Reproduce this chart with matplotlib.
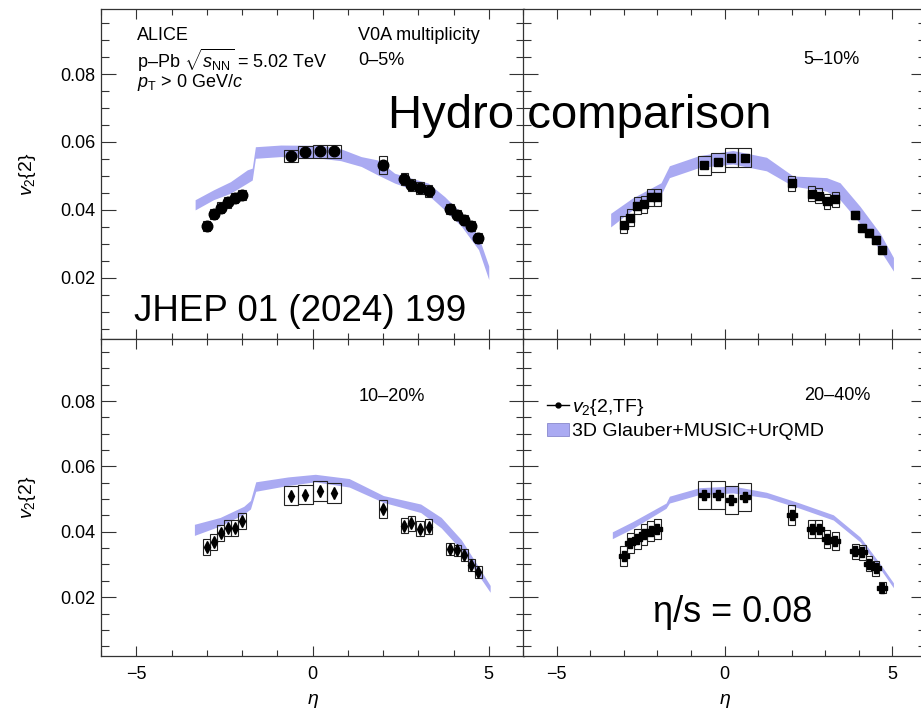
import numpy as np
import matplotlib
matplotlib.use('Agg')
import matplotlib.pyplot as plt
from matplotlib.lines import Line2D
from matplotlib.patches import Patch

plt.rcParams['font.family'] = ['Liberation Sans', 'DejaVu Sans']
plt.rcParams['mathtext.fontset'] = 'custom'
plt.rcParams['mathtext.rm'] = 'Liberation Sans'
plt.rcParams['mathtext.it'] = 'Liberation Sans:italic'
plt.rcParams['mathtext.bf'] = 'Liberation Sans:bold'

# eta bins (same in every centrality class)
eta = [-3.0, -2.8, -2.6, -2.4, -2.2, -2.0, -0.6, -0.2, 0.2, 0.6,
       2.0, 2.6, 2.8, 3.05, 3.3, 3.9, 4.1, 4.3, 4.5, 4.7]
box_w = [0.2, 0.2, 0.2, 0.2, 0.2, 0.2, 0.4, 0.4, 0.4, 0.4,
         0.2, 0.2, 0.2, 0.2, 0.2, 0.2, 0.2, 0.2, 0.2, 0.2]

# v2{2,TF} per class
v2_0_5 = [0.0352, 0.0389, 0.0407, 0.0422, 0.0434, 0.0444, 0.0559, 0.0571, 0.0572, 0.0572,
          0.0533, 0.0490, 0.0473, 0.0464, 0.0455, 0.0402, 0.0385, 0.0370, 0.0352, 0.0317]
v2_5_10 = [0.0357, 0.0377, 0.0412, 0.0417, 0.0437, 0.0437, 0.0531, 0.0541, 0.0554, 0.0554,
           0.0479, 0.0447, 0.0442, 0.0425, 0.0432, 0.0385, 0.0347, 0.0332, 0.0312, 0.0282]
v2_10_20 = [0.0353, 0.0369, 0.0397, 0.0412, 0.0412, 0.0433, 0.0511, 0.0514, 0.0524, 0.0518,
            0.0469, 0.0418, 0.0426, 0.0410, 0.0415, 0.0347, 0.0343, 0.0329, 0.0298, 0.0278]
v2_20_40 = [0.0326, 0.0366, 0.0378, 0.0392, 0.0402, 0.0409, 0.0513, 0.0513, 0.0497, 0.0506,
            0.0451, 0.0409, 0.0409, 0.0378, 0.0371, 0.0340, 0.0337, 0.0303, 0.0288, 0.0229]

# systematic uncertainties (half height of the boxes)
sys_0_5 = [0.0015, 0.0015, 0.0015, 0.0015, 0.0015, 0.0015, 0.0018, 0.0018, 0.0018, 0.0018,
           0.0027, 0.0018, 0.0018, 0.0018, 0.0018, 0.0015, 0.0015, 0.0015, 0.0015, 0.0015]
sys_5_10 = [0.0025, 0.0025, 0.0025, 0.0025, 0.0025, 0.0025, 0.0028, 0.0028, 0.0028, 0.0028,
            0.0022, 0.0022, 0.0022, 0.0022, 0.0022, 0.0012, 0.0012, 0.0012, 0.0012, 0.0012]
sys_10_20 = [0.0024, 0.0024, 0.0024, 0.0024, 0.0024, 0.0024, 0.0030, 0.0030, 0.0030, 0.0030,
             0.0028, 0.0023, 0.0023, 0.0023, 0.0023, 0.0018, 0.0018, 0.0018, 0.0018, 0.0018]
sys_20_40 = [0.0031, 0.0031, 0.0031, 0.0031, 0.0031, 0.0031, 0.0042, 0.0042, 0.0042, 0.0042,
             0.0031, 0.0028, 0.0028, 0.0028, 0.0028, 0.0023, 0.0023, 0.0023, 0.0023, 0.0016]
stat_err = [0.0005, 0.0005, 0.0009, 0.0009]

# 3D Glauber+MUSIC+UrQMD band
band_0_5_eta = [-3.33, -2.81, -2.33, -1.85, -1.71, -1.62, -0.9, 0.24, 0.8, 1.38, 1.85, 2.33, 3.28, 3.75, 4.23, 4.71, 5.0]
band_0_5_hi = [0.0430, 0.0459, 0.0483, 0.0518, 0.0523, 0.0586, 0.0591, 0.0590, 0.0580, 0.0557, 0.0547, 0.0508, 0.0479, 0.0439, 0.0390, 0.0322, 0.0235]
band_0_5_lo = [0.0400, 0.0430, 0.0449, 0.0479, 0.0488, 0.0552, 0.0557, 0.0552, 0.0545, 0.0528, 0.0503, 0.0479, 0.0444, 0.0400, 0.0351, 0.0283, 0.0195]

band_5_10_eta = [-3.39, -2.74, -1.89, -1.64, -0.75, 0.25, 1.25, 2.04, 3.04, 3.44, 4.04, 4.64, 5.03]
band_5_10_hi = [0.0390, 0.0435, 0.0480, 0.0530, 0.0560, 0.0575, 0.0555, 0.0500, 0.0495, 0.0480, 0.0410, 0.0330, 0.0260]
band_5_10_lo = [0.0350, 0.0400, 0.0445, 0.0495, 0.0525, 0.0535, 0.0515, 0.0470, 0.0455, 0.0430, 0.0360, 0.0280, 0.0220]

band_10_20_eta = [-3.35, -2.62, -1.95, -1.76, -1.61, -0.69, 0.08, 1.04, 2.01, 3.07, 3.65, 4.22, 4.71, 5.04]
band_10_20_hi = [0.0423, 0.0444, 0.0478, 0.0496, 0.0553, 0.0568, 0.0576, 0.0563, 0.0511, 0.0485, 0.0444, 0.0376, 0.0293, 0.0236]
band_10_20_lo = [0.0389, 0.0418, 0.0454, 0.0470, 0.0524, 0.0542, 0.0553, 0.0537, 0.0490, 0.0459, 0.0412, 0.0345, 0.0267, 0.0215]

band_20_40_eta = [-3.34, -2.74, -1.74, -1.64, -0.75, 0.25, 1.25, 2.24, 3.24, 4.04, 4.64, 5.03]
band_20_40_hi = [0.0400, 0.0431, 0.0488, 0.0509, 0.0535, 0.0540, 0.0521, 0.0488, 0.0452, 0.0384, 0.0301, 0.0244]
band_20_40_lo = [0.0379, 0.0410, 0.0472, 0.0488, 0.0514, 0.0519, 0.0504, 0.0472, 0.0436, 0.0369, 0.0286, 0.0229]

classes = ['0\u20135%', '5\u201310%', '10\u201320%', '20\u201340%']
y_ticks = [0.02, 0.04, 0.06, 0.08]
x_ticks = [-5, 0, 5]

band_col = '#aaaaf2'
frame_col = '#333333'

fig = plt.figure(figsize=(9.21, 7.11), dpi=100)
W, H = 921.0, 711.0

def px_axes(x0, y0, x1, y1):
    # pixel box (from top-left) -> axes
    return fig.add_axes([x0 / W, 1 - y1 / H, (x1 - x0) / W, (y1 - y0) / H])

ax1 = px_axes(101, 9.5, 524, 339)
ax2 = px_axes(523, 9.5, 926, 339)
ax3 = px_axes(101, 339, 524, 656)
ax4 = px_axes(523, 339, 926, 656)
axes = [ax1, ax2, ax3, ax4]

data = [(v2_0_5, sys_0_5, band_0_5_eta, band_0_5_lo, band_0_5_hi, 'o', 7.6),
        (v2_5_10, sys_5_10, band_5_10_eta, band_5_10_lo, band_5_10_hi, 's', 6.2),
        (v2_10_20, sys_10_20, band_10_20_eta, band_10_20_lo, band_10_20_hi, 'd', 5.8),
        (v2_20_40, sys_20_40, band_20_40_eta, band_20_40_lo, band_20_40_hi, 'P', 7.0)]

for i, ax in enumerate(axes):
    v, s, beta, blo, bhi, mk, ms = data[i]
    v = np.array(v)
    s = np.array(s)
    ax.fill_between(beta, blo, bhi, color=band_col, linewidth=0, zorder=1)
    ax.bar(eta, 2 * s, bottom=v - s, width=box_w, fill=False,
           edgecolor='#222222', linewidth=0.8, zorder=2)
    ax.errorbar(eta, v, yerr=stat_err[i], fmt=mk, color='black', ms=ms,
                elinewidth=1.2, capsize=0, zorder=3)

    ax.set_xlim(-6, 6)
    ax.set_ylim(0.002, 0.099)
    ax.set_xticks(x_ticks)
    ax.set_xticks(np.arange(-6, 7, 1), minor=True)
    ax.set_yticks(y_ticks)
    ax.set_yticks(np.arange(0.005, 0.0991, 0.005), minor=True)
    ax.tick_params(which='both', direction='in', top=True, right=True,
                   color=frame_col, width=0.8, labelsize=13)
    ax.tick_params(axis='y', which='major', length=11, pad=4)
    ax.tick_params(axis='y', which='minor', length=6)
    ax.tick_params(axis='x', which='major', length=7, pad=7)
    ax.tick_params(axis='x', which='minor', length=4.5)
    ax.tick_params(labelbottom=(i >= 2), labelleft=(i % 2 == 0))
    for sp in ax.spines.values():
        sp.set_color(frame_col)
        sp.set_linewidth(0.9)
    ax.yaxis.set_major_formatter(matplotlib.ticker.FormatStrFormatter('%.2f'))
    if i % 2 == 0:
        ax.set_ylabel(r'$v_{2}\{2\}$', fontsize=14)
        ax.yaxis.set_label_coords(-0.148, 0.5)
    if i >= 2:
        ax.set_xlabel(r'$\eta$', fontsize=14)
        ax.xaxis.set_label_coords(0.5, -0.115)

# text in the panels
ax1.text(0.085, 0.921, 'ALICE', transform=ax1.transAxes, fontsize=13, va='center')
ax1.text(0.085, 0.844, 'p\u2013Pb ' + r'$\sqrt{s_{\rm NN}}$ = 5.02 TeV', transform=ax1.transAxes,
         fontsize=13, va='center')
ax1.text(0.085, 0.777, r'$p_{\rm T}$ > 0 GeV/$c$', transform=ax1.transAxes, fontsize=13, va='center')
ax1.text(0.608, 0.921, 'V0A multiplicity', transform=ax1.transAxes, fontsize=13, va='center')
ax1.text(0.608, 0.844, classes[0], transform=ax1.transAxes, fontsize=13, va='center')
ax2.text(0.695, 0.847, classes[1], transform=ax2.transAxes, fontsize=13, va='center')
ax3.text(0.608, 0.820, classes[2], transform=ax3.transAxes, fontsize=13, va='center')
ax4.text(0.697, 0.823, classes[3], transform=ax4.transAxes, fontsize=13, va='center')

handles = [Line2D([], [], color='black', marker='o', ms=3.5, lw=1),
           Patch(facecolor=band_col, edgecolor='#8888cc', linewidth=0.6)]
ax4.legend(handles, [r'$v_{2}${2,TF}', '3D Glauber+MUSIC+UrQMD'],
           loc='upper left', bbox_to_anchor=(0.06, 0.817), frameon=False, fontsize=14,
           handlelength=1.1, handletextpad=0.2, borderaxespad=0, borderpad=0,
           labelspacing=0.25)

# slide annotations on top
fig.text(388 / W, 1 - 128 / H, 'Hydro comparison', fontsize=34, va='baseline', zorder=10)
fig.text(133.5 / W, 1 - 321 / H, 'JHEP 01 (2024) 199', fontsize=26.5, va='baseline', zorder=10)
fig.text(653 / W, 1 - 622 / H, '\u03b7/s = 0.08', fontsize=26, va='baseline', zorder=10)

fig.savefig('out.png', dpi=100)
